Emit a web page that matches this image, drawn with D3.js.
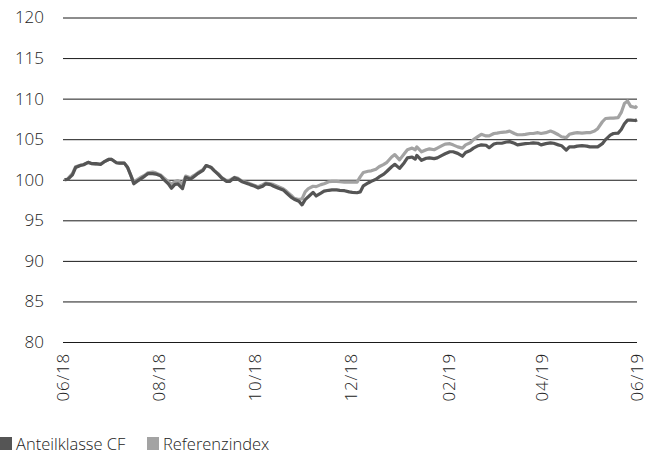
<!DOCTYPE html>
<html>
<head>
<meta charset="utf-8">
<script src="https://cdn.jsdelivr.net/npm/d3@7"></script>
<style>
  html, body { margin: 0; padding: 0; background: #fff; }
  svg { display: block; font-family: "Open Sans", "Noto Sans", sans-serif; }
  .tick-label { font-size: 17px; font-weight: 300; fill: #222; }
  .x-label { letter-spacing: 0.8px; }
  .legend-label { font-size: 16.5px; font-weight: 300; fill: #222; }
</style>
</head>
<body>
<svg id="chart" width="655" height="456"></svg>
<script>
// dates of the price points
var dates = [
  '2018-06-02', '2018-06-04', '2018-06-07', '2018-06-09', '2018-06-12', '2018-06-14', '2018-06-17', '2018-06-19', '2018-06-22', '2018-06-25',
  '2018-06-27', '2018-06-30', '2018-07-02', '2018-07-05', '2018-07-07', '2018-07-10', '2018-07-12', '2018-07-14', '2018-07-16', '2018-07-18',
  '2018-07-20', '2018-07-23', '2018-07-25', '2018-07-28', '2018-07-30', '2018-08-02', '2018-08-04', '2018-08-07', '2018-08-09', '2018-08-11',
  '2018-08-13', '2018-08-16', '2018-08-18', '2018-08-21', '2018-08-23', '2018-08-26', '2018-08-29', '2018-08-31', '2018-09-03', '2018-09-05',
  '2018-09-08', '2018-09-10', '2018-09-13', '2018-09-15', '2018-09-18', '2018-09-20', '2018-09-23', '2018-09-26', '2018-09-28', '2018-10-01',
  '2018-10-03', '2018-10-06', '2018-10-08', '2018-10-11', '2018-10-13', '2018-10-16', '2018-10-19', '2018-10-21', '2018-10-24', '2018-10-26',
  '2018-10-29', '2018-10-31', '2018-11-02', '2018-11-04', '2018-11-07', '2018-11-09', '2018-11-12', '2018-11-14', '2018-11-17', '2018-11-19',
  '2018-11-22', '2018-11-24', '2018-11-27', '2018-11-30', '2018-12-02', '2018-12-05', '2018-12-07', '2018-12-09', '2018-12-12', '2018-12-14',
  '2018-12-17', '2018-12-19', '2018-12-22', '2018-12-24', '2018-12-27', '2018-12-29', '2019-01-01', '2019-01-04', '2019-01-06', '2019-01-09',
  '2019-01-11', '2019-01-12', '2019-01-15', '2019-01-18', '2019-01-20', '2019-01-23', '2019-01-25', '2019-01-28', '2019-01-30', '2019-02-02',
  '2019-02-04', '2019-02-07', '2019-02-10', '2019-02-12', '2019-02-15', '2019-02-17', '2019-02-20', '2019-02-22', '2019-02-25', '2019-02-27',
  '2019-03-02', '2019-03-04', '2019-03-07', '2019-03-10', '2019-03-12', '2019-03-15', '2019-03-17', '2019-03-20', '2019-03-22', '2019-03-25',
  '2019-03-27', '2019-03-30', '2019-04-01', '2019-04-04', '2019-04-07', '2019-04-09', '2019-04-12', '2019-04-14', '2019-04-17', '2019-04-19',
  '2019-04-22', '2019-04-24', '2019-04-27', '2019-04-30', '2019-05-02', '2019-05-05', '2019-05-07', '2019-05-10', '2019-05-12', '2019-05-15',
  '2019-05-17', '2019-05-20', '2019-05-22', '2019-05-24', '2019-05-26', '2019-05-28', '2019-05-31', '2019-06-01'
]

// Anteilklasse CF, indexed to 100
var anteilklasse = [
  100, 100.05, 100.6, 101.5, 101.75, 101.85, 102.15, 102.0, 102.0, 101.9,
  102.2, 102.5, 102.5, 102.1, 102.05, 102.05, 101.55, 100.6, 99.5, 99.8,
  100.05, 100.45, 100.75, 100.75, 100.7, 100.5, 100.05, 99.5, 98.95, 99.4,
  99.5, 98.9, 100.3, 100.05, 100.35, 100.8, 101.15, 101.75, 101.55, 101.15,
  100.6, 100.2, 99.8, 99.8, 100.25, 100.1, 99.75, 99.55, 99.4, 99.2,
  99.0, 99.2, 99.5, 99.4, 99.2, 98.95, 98.75, 98.4, 97.85, 97.6,
  97.35, 96.9, 97.55, 97.9, 98.45, 98.0, 98.35, 98.6, 98.7, 98.75,
  98.75, 98.7, 98.65, 98.5, 98.45, 98.4, 98.5, 99.25, 99.6, 99.8,
  100.05, 100.35, 100.7, 101.05, 101.6, 101.9, 101.4, 102.1, 102.7, 102.8,
  102.55, 103.0, 102.4, 102.65, 102.7, 102.6, 102.7, 103.0, 103.2, 103.45,
  103.45, 103.25, 102.9, 103.35, 103.6, 103.9, 104.2, 104.3, 104.25, 103.95,
  104.4, 104.5, 104.5, 104.65, 104.7, 104.5, 104.3, 104.4, 104.45, 104.5,
  104.55, 104.5, 104.3, 104.45, 104.55, 104.5, 104.3, 104.2, 103.65, 104.05,
  104.05, 104.15, 104.2, 104.15, 104.05, 104.05, 104.05, 104.45, 104.95, 105.5,
  105.7, 105.75, 106.2, 106.9, 107.35, 107.35, 107.3, 107.4
]

// Referenzindex, indexed to 100
var referenzindex = [
  100, 100.1, 100.75, 101.6, 101.8, 101.85, 102.15, 102.0, 101.9, 101.9,
  102.2, 102.5, 102.5, 102.1, 102.05, 102.05, 101.55, 100.6, 99.75, 100.0,
  100.25, 100.55, 100.85, 100.95, 100.85, 100.6, 100.25, 99.75, 99.45, 99.75,
  99.9, 99.45, 100.45, 100.25, 100.5, 100.9, 101.25, 101.75, 101.55, 101.15,
  100.7, 100.25, 99.9, 99.95, 100.3, 100.2, 99.8, 99.65, 99.5, 99.3,
  99.15, 99.4, 99.6, 99.5, 99.4, 99.15, 98.9, 98.6, 98.1, 97.7,
  97.55, 97.65, 98.5, 98.9, 99.2, 99.15, 99.4, 99.5, 99.75, 99.8,
  99.8, 99.75, 99.7, 99.7, 99.7, 99.7, 100.35, 100.9, 101.05, 101.1,
  101.3, 101.6, 101.9, 102.15, 102.8, 103.1, 102.45, 103.2, 103.7, 103.9,
  103.7, 104.05, 103.45, 103.7, 103.8, 103.7, 103.9, 104.2, 104.4, 104.45,
  104.3, 104.05, 103.9, 104.3, 104.55, 104.95, 105.35, 105.6, 105.4, 105.4,
  105.7, 105.75, 105.85, 105.9, 106.0, 105.7, 105.55, 105.55, 105.6, 105.7,
  105.7, 105.8, 105.7, 105.8, 106.0, 105.85, 105.55, 105.3, 105.2, 105.6,
  105.75, 105.8, 105.75, 105.8, 105.8, 106.0, 106.3, 107.15, 107.55, 107.6,
  107.6, 107.65, 108.3, 109.4, 109.7, 109.05, 108.9, 109.1
]

var yTicks = [80, 85, 90, 95, 100, 105, 110, 115, 120]
var xTickDates = ['2018-06-01', '2018-08-01', '2018-10-01', '2018-12-01', '2019-02-01', '2019-04-01', '2019-06-01']
var seriesNames = ['Anteilklasse CF', 'Referenzindex']
var seriesColors = ['#555555', '#a3a3a3']

var parseDate = d3.timeParse('%Y-%m-%d')
var formatTick = d3.timeFormat('%m/%y')

var svg = d3.select('#chart')
var plotLeft = 63
var plotRight = 637
var plotTop = 17.5
var plotBottom = 342

var x = d3.scaleTime()
  .domain([parseDate('2018-06-01'), parseDate('2019-06-01')])
  .range([plotLeft, plotRight])
var y = d3.scaleLinear().domain([80, 120]).range([plotBottom, plotTop])

// horizontal grid lines + y labels
var yAxis = d3.axisLeft(y).tickValues(yTicks).tickSize(-(plotRight - plotLeft)).tickPadding(19)
var gy = svg.append('g').attr('transform', 'translate(' + plotLeft + ',0)').call(yAxis)
gy.select('.domain').remove()
gy.attr('font-size', null).attr('font-family', null)
gy.selectAll('.tick line').attr('stroke', '#1a1a1a').attr('stroke-width', 1)
gy.selectAll('.tick text').attr('class', 'tick-label')

// x labels, rotated
var xAxis = d3.axisBottom(x).tickValues(xTickDates.map(parseDate)).tickFormat(formatTick).tickSize(0)
var gx = svg.append('g').attr('transform', 'translate(0,' + plotBottom + ')').call(xAxis)
gx.select('.domain').remove()
gx.attr('font-size', null).attr('font-family', null)
gx.selectAll('.tick text')
  .attr('class', 'tick-label x-label')
  .attr('text-anchor', 'end')
  .attr('transform', 'rotate(-90)')
  .attr('x', -11)
  .attr('y', 0)
  .attr('dy', '0.35em')

var rows = dates.map(function (d, i) {
  return { date: parseDate(d), fund: anteilklasse[i], index: referenzindex[i] }
})

var line = function (key) {
  return d3.line()
    .x(function (d) { return x(d.date) })
    .y(function (d) { return y(d[key]) })
}

// index underneath, fund on top
svg.append('path').datum(rows)
  .attr('fill', 'none').attr('stroke', seriesColors[1]).attr('stroke-width', 3.2)
  .attr('stroke-linejoin', 'round')
  .attr('d', line('index'))
svg.append('path').datum(rows)
  .attr('fill', 'none').attr('stroke', seriesColors[0]).attr('stroke-width', 3.2)
  .attr('stroke-linejoin', 'round')
  .attr('d', line('fund'))

// legend
var legendX = [0, 147]
var legend = svg.append('g').attr('transform', 'translate(0,437)')
seriesNames.forEach(function (name, i) {
  legend.append('rect').attr('x', legendX[i]).attr('y', 0).attr('width', 12).attr('height', 13).attr('fill', seriesColors[i])
  legend.append('text').attr('class', 'legend-label').attr('x', legendX[i] + 16).attr('y', 12.5).text(name)
})
</script>
</body>
</html>
